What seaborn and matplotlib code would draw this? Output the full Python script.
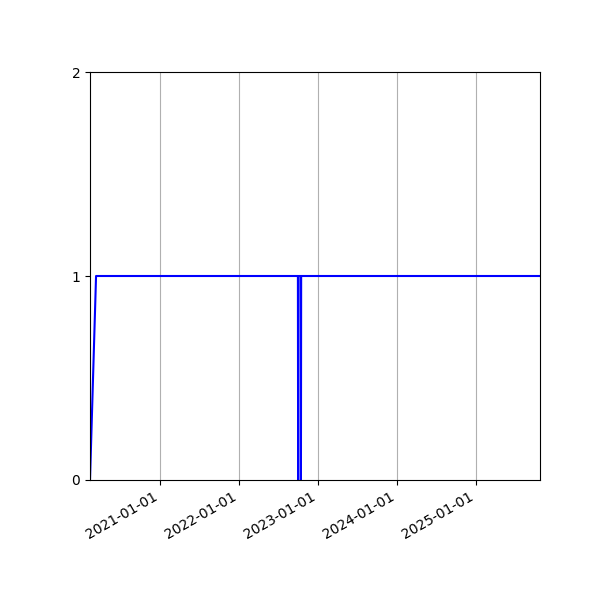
import numpy as np
import pandas as pd
import matplotlib
matplotlib.use("Agg")
import matplotlib.pyplot as plt
import matplotlib.dates as mdates
import seaborn as sns

dates = ["2020-02-12", "2020-03-11",
         "2022-09-30", "2022-10-01", "2022-10-02",
         "2022-10-13", "2022-10-14", "2022-10-15",
         "2025-10-23"]
values = [0, 1, 1, 0, 1, 1, 0, 1, 1]

df = pd.DataFrame({"date": pd.to_datetime(dates), "value": values})

fig, ax = plt.subplots(figsize=(6, 6), dpi=100)
sns.lineplot(x="date", y="value", data=df, color="blue", linewidth=1.5, ax=ax)

ax.set_xlim(df["date"].min(), df["date"].max())
ax.set_ylim(0, 2)
ax.set_yticks([0, 1, 2])
ax.xaxis.set_major_locator(mdates.YearLocator())
ax.xaxis.set_major_formatter(mdates.DateFormatter("%Y-%m-%d"))
ax.grid(axis="x", color="#b0b0b0")
ax.set_xlabel("")
ax.set_ylabel("")
fig.autofmt_xdate()
plt.subplots_adjust(left=0.15, right=0.9, top=0.88, bottom=0.2)

plt.savefig("out.png")
